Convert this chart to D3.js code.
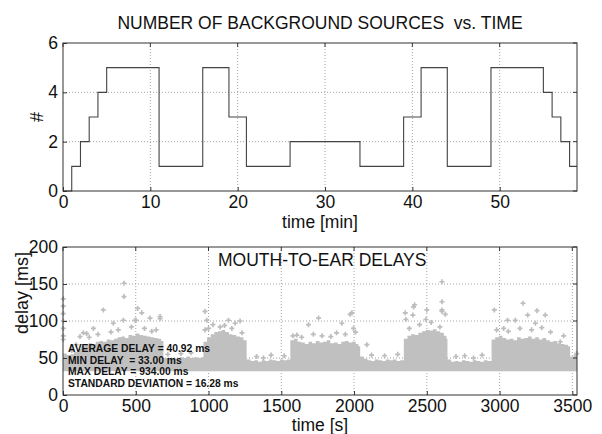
<!DOCTYPE html>
<html>
  <head>
    <meta charset="utf-8">
    <title>background sources and mouth-to-ear delays</title>
    <script src="https://d3js.org/d3.v7.min.js"></script>
  </head>
  <style>
    body { margin: 0; background: #fff; }
    text { font-family: "Liberation Sans", Arial, sans-serif; fill: #111; }
    .grid-line { stroke: #8c8c8c; stroke-width: 0.8px; stroke-dasharray: 1,2; }
    .box { fill: none; stroke: #333; stroke-width: 1px; }
    .tick-mark { stroke: #333; stroke-width: 1px; }
  </style>
  <body>
    <script>
      const width = 602;
      const height = 434;

      // top panel: number of background sources (step changes, minutes)
      const stepTimes = [0, 1, 2, 3, 4, 5, 11, 16, 19, 21, 26, 34, 39, 41, 44, 49, 55, 56, 57, 58, 58.85];
      const stepCounts = [0, 1, 2, 3, 4, 5, 1, 5, 3, 1, 2, 1, 3, 5, 1, 5, 4, 3, 2, 1, 1];
      const topXTicks = [0, 10, 20, 30, 40, 50];
      const topYTicks = [0, 2, 4, 6];

      // bottom panel: upper edge of the dense delay band (ms), sampled in time (s)
      const bandTimes = [0, 25, 50, 75, 100, 125, 150, 175, 200, 225, 250, 275, 300, 325, 350, 375,
        400, 425, 450, 475, 500, 525, 550, 575, 600, 625, 650, 675,
        690, 725, 750, 775, 800, 825, 850, 875, 900, 925, 950,
        965, 990, 1015, 1040, 1065, 1090, 1115, 1140, 1165, 1190, 1215, 1240,
        1262, 1290, 1315, 1340, 1365, 1390, 1415, 1440, 1465, 1490, 1515, 1540,
        1562, 1587, 1612, 1637, 1662, 1687, 1712, 1737, 1762, 1787, 1812, 1837, 1862, 1887,
        1912, 1937, 1962, 1987, 2012, 2030,
        2042, 2067, 2092, 2117, 2142, 2167, 2192, 2217, 2242, 2267, 2292, 2317,
        2342, 2367, 2392, 2417, 2442, 2467, 2492, 2517, 2542, 2567, 2592, 2617, 2635,
        2642, 2667, 2692, 2717, 2742, 2767, 2792, 2817, 2842, 2867, 2892, 2917,
        2945, 2970, 2995, 3020, 3045, 3070, 3095, 3120, 3145, 3170, 3195, 3220, 3245, 3270,
        3295, 3320, 3345, 3370, 3395, 3420, 3445, 3470,
        3485, 3510, 3532];
      const bandTops = [56, 54, 55, 58, 62, 66, 68, 70, 69, 72, 73, 72, 75, 74, 76, 78,
        79, 77, 81, 80, 83, 81, 80, 79, 78, 77, 76, 73,
        50, 48, 50, 49, 51, 50, 52, 50, 51, 50, 51,
        72, 78, 82, 85, 86, 88, 85, 82, 81, 79, 78, 74,
        48, 46, 47, 45, 47, 46, 48, 47, 46, 48, 47, 48,
        74, 76, 72, 71, 69, 72, 70, 73, 71, 72, 74, 70, 71, 69,
        72, 73, 71, 72, 69, 66,
        52, 49, 47, 46, 48, 47, 46, 48, 47, 48, 46, 47,
        76, 80, 82, 81, 84, 86, 88, 87, 89, 86, 84, 80, 76,
        48, 45, 46, 45, 47, 46, 45, 47, 46, 45, 47, 46,
        75, 78, 80, 77, 75, 76, 74, 78, 76, 77, 79, 76, 78, 75,
        77, 74, 72, 73, 70, 69, 68, 66,
        52, 55, 55];
      const bandBottom = 32;

      // scattered points above the dense band
      const outlierTimes = [2, 2, 2, 2, 2, 2, 2, 117, 140, 163, 209, 277, 346, 415, 419, 419, 495, 502,
        513, 541, 598, 667, 667, 976, 976, 988, 1080, 1137, 1183, 1217, 1377, 1607, 1687,
        1756, 1916, 1973, 1985, 1996, 2088, 2352, 2356, 2404, 2409, 2416, 2494, 2500, 2604,
        2604, 2604, 2604, 2627, 2821, 2964, 3028, 3055, 3108, 3161, 3193, 3246, 3257, 3314,
        3417, 3530,
        60, 90, 180, 240, 330, 380, 470, 560, 610, 640, 720, 810, 880, 1000, 1030, 1110,
        1160, 1230, 1330, 1430, 1520, 1580, 1640, 1720, 1780, 1840, 1880, 1940, 2010, 2120,
        2210, 2300, 2380, 2450, 2530, 2590, 2700, 2760, 2880, 2980, 3060, 3140, 3220, 3290,
        3350, 3440];
      const outlierDelays = [130, 120, 110, 100, 90, 80, 75, 79, 84, 83, 90, 115, 97, 101, 151, 133, 101, 101,
        117, 111, 104, 103, 106, 113, 88, 101, 92, 101, 97, 100, 50, 81, 95,
        104, 97, 109, 111, 90, 68, 111, 102, 108, 119, 122, 102, 115, 153,
        126, 115, 113, 109, 50, 115, 90, 101, 101, 124, 108, 97, 114, 108,
        72, 56,
        60, 68, 78, 82, 85, 88, 92, 90, 86, 88, 55, 56, 57, 90, 95, 94,
        90, 84, 52, 54, 53, 80, 78, 82, 80, 79, 84, 82, 85, 54,
        53, 55, 90, 95, 98, 92, 52, 53, 54, 88, 86, 90, 88, 91,
        85, 80];
      const botXTicks = [0, 500, 1000, 1500, 2000, 2500, 3000, 3500];
      const botYTicks = [0, 50, 100, 150, 200];

      const statLines = [
        "AVERAGE DELAY = 40.92 ms",
        "MIN DELAY  = 33.00 ms",
        "MAX DELAY = 934.00 ms",
        "STANDARD DEVIATION = 16.28 ms"
      ];

      const xTop = d3.scaleLinear().domain([0, 58.85]).range([63, 577]);
      const yTop = d3.scaleLinear().domain([0, 6]).range([191, 43]);
      const xBot = d3.scaleLinear().domain([0, 3532]).range([63, 577]);
      const yBot = d3.scaleLinear().domain([0, 200]).range([395, 247]);

      const svg = d3.select("body")
        .append("svg")
          .attr("width", width)
          .attr("height", height);

      svg.append("rect")
          .attr("width", width)
          .attr("height", height)
          .attr("fill", "#fff");

      function renderGrid(x, y, xTicks, yTicks) {
        const [x0, x1] = x.range();
        const [y0, y1] = y.range();
        const g = svg.append("g");
        g.selectAll("line.vx")
          .data(xTicks.filter(function(t) { return x(t) > x0 + 1 && x(t) < x1 - 1; }))
          .enter().append("line")
            .classed("grid-line", true)
            .attr("x1", function(d) { return x(d); })
            .attr("x2", function(d) { return x(d); })
            .attr("y1", y0)
            .attr("y2", y1);
        g.selectAll("line.hy")
          .data(yTicks.filter(function(t) { return y(t) < y0 - 1 && y(t) > y1 + 1; }))
          .enter().append("line")
            .classed("grid-line", true)
            .attr("x1", x0)
            .attr("x2", x1)
            .attr("y1", function(d) { return y(d); })
            .attr("y2", function(d) { return y(d); });
      }

      function renderFrame(x, y, xTicks, yTicks) {
        const [x0, x1] = x.range();
        const [y0, y1] = y.range();

        const xAxis = d3.axisBottom(x).tickValues(xTicks).tickFormat(d3.format("d"))
          .tickSizeInner(-4).tickSizeOuter(0).tickPadding(5);
        const gx = svg.append("g")
            .attr("transform", "translate(0," + y0 + ")")
            .call(xAxis);
        const yAxis = d3.axisLeft(y).tickValues(yTicks).tickFormat(d3.format("d"))
          .tickSizeInner(-4).tickSizeOuter(0).tickPadding(5);
        const gy = svg.append("g")
            .attr("transform", "translate(" + x0 + ",0)")
            .call(yAxis);
        [gx, gy].forEach(function(g) {
          g.select(".domain").remove();
          g.selectAll("line").attr("stroke", "#333");
          g.selectAll("text")
            .style("font-size", "17.5px")
            .style("font-family", "'Liberation Sans', Arial, sans-serif")
            .attr("fill", "#111");
        });

        // mirrored ticks on top and right
        svg.append("g").selectAll("line")
          .data(xTicks)
          .enter().append("line")
            .classed("tick-mark", true)
            .attr("x1", function(d) { return x(d); })
            .attr("x2", function(d) { return x(d); })
            .attr("y1", y1)
            .attr("y2", y1 + 4);
        svg.append("g").selectAll("line")
          .data(yTicks)
          .enter().append("line")
            .classed("tick-mark", true)
            .attr("x1", x1)
            .attr("x2", x1 - 4)
            .attr("y1", function(d) { return y(d); })
            .attr("y2", function(d) { return y(d); });

        svg.append("rect")
            .classed("box", true)
            .attr("x", x0)
            .attr("y", y1)
            .attr("width", x1 - x0)
            .attr("height", y0 - y1);
      }

      // ---- top panel
      renderGrid(xTop, yTop, topXTicks, topYTicks);

      const stepData = stepTimes.map(function(t, i) { return [t, stepCounts[i]]; });
      svg.append("path")
          .datum(stepData)
          .attr("fill", "none")
          .attr("stroke", "#444")
          .attr("stroke-width", 1.1)
          .attr("d", d3.line()
            .x(function(d) { return xTop(d[0]); })
            .y(function(d) { return yTop(d[1]); })
            .curve(d3.curveStepAfter));

      renderFrame(xTop, yTop, topXTicks, topYTicks);

      svg.append("text")
          .attr("x", 320)
          .attr("y", 29)
          .attr("text-anchor", "middle")
          .style("font-size", "17.5px")
          .style("white-space", "pre")
          .text("NUMBER OF BACKGROUND SOURCES  vs. TIME");

      svg.append("text")
          .attr("x", 320)
          .attr("y", 228)
          .attr("text-anchor", "middle")
          .style("font-size", "17.5px")
          .text("time [min]");

      svg.append("text")
          .attr("transform", "translate(43,117) rotate(-90)")
          .attr("text-anchor", "middle")
          .style("font-size", "18px")
          .text("#");

      // ---- bottom panel
      renderGrid(xBot, yBot, botXTicks, botYTicks);

      const bandData = bandTimes.map(function(t, i) { return [t, bandTops[i]]; });
      svg.append("path")
          .datum(bandData)
          .attr("fill", "#c0c0c0")
          .attr("stroke", "none")
          .attr("d", d3.area()
            .x(function(d) { return xBot(d[0]); })
            .y0(yBot(bandBottom))
            .y1(function(d) { return yBot(d[1]); })
            .curve(d3.curveStepAfter));

      const cross = d3.symbol().type(d3.symbolCross).size(14);
      svg.append("g").selectAll("path")
        .data(outlierTimes.map(function(t, i) { return [t, outlierDelays[i]]; }))
        .enter().append("path")
          .attr("d", cross)
          .attr("fill", "#bdbdbd")
          .attr("transform", function(d) { return "translate(" + xBot(d[0]) + "," + yBot(d[1]) + ")"; });

      renderFrame(xBot, yBot, botXTicks, botYTicks);

      svg.append("text")
          .attr("x", 218)
          .attr("y", 266)
          .style("font-size", "17.5px")
          .text("MOUTH-TO-EAR DELAYS");

      svg.append("g").selectAll("text")
        .data(statLines)
        .enter().append("text")
          .attr("x", 68)
          .attr("y", function(d, i) { return 352 + i * 11.7; })
          .style("font-size", "10.3px")
          .style("font-weight", "bold")
          .style("white-space", "pre")
          .text(function(d) { return d; });

      svg.append("text")
          .attr("x", 320)
          .attr("y", 431)
          .attr("text-anchor", "middle")
          .style("font-size", "17.5px")
          .text("time [s]");

      svg.append("text")
          .attr("transform", "translate(28,293) rotate(-90)")
          .attr("text-anchor", "middle")
          .style("font-size", "18px")
          .text("delay [ms]");
    </script>
  </body>
</html>
